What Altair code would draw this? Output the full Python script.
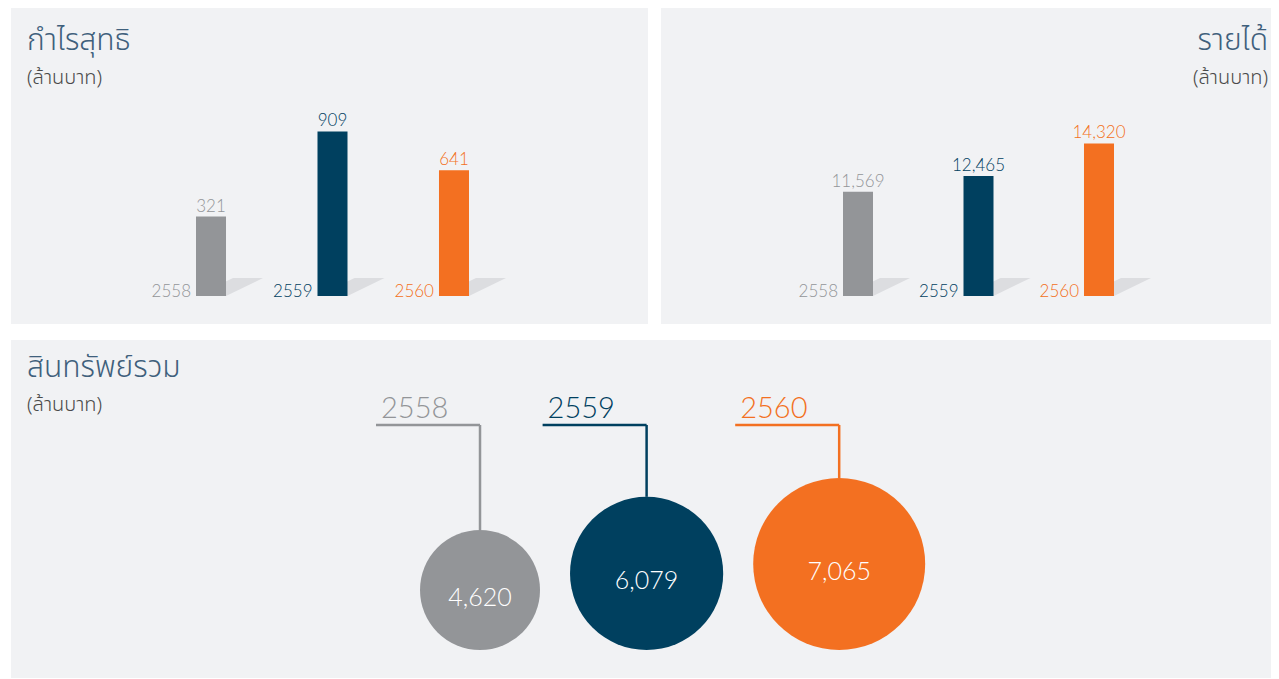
import altair as alt
import pandas as pd

# ---------------- data ----------------
years = ["2558", "2559", "2560"]
net_profit = [321, 909, 641]          # กำไรสุทธิ (ล้านบาท)
revenue = [11569, 12465, 14320]       # รายได้ (ล้านบาท)
total_assets = [4620, 6079, 7065]     # สินทรัพย์รวม (ล้านบาท)
palette = ["#939598", "#00405f", "#f37021"]

title_profit = "กำไรสุทธิ"
title_revenue = "รายได้"
title_assets = "สินทรัพย์รวม"
unit_label = "(ล้านบาท)"

# ---------------- style / layout ----------------
BG = "#f1f2f4"
SHADOW = "#dcdde0"
TITLE_COLOR = "#3f607c"
SUB_COLOR = "#4a4a4a"
THAI_FONT = "Noto Sans Thai, Noto Sans, sans-serif"
NUM_FONT = "Lato"

color_scale = alt.Scale(domain=years, range=palette)
# parallelogram shadow cast by each bar (unit = half bar width)
SHADOW_PATH = "M-1,0L1,0L3.467,-1.2L1.467,-1.2Z"


def title_layer(text, sub, x, align, y_title, y_sub):
    df = pd.DataFrame({"t": [text], "s": [sub]})
    t = alt.Chart(df).mark_text(
        align=align, baseline="alphabetic", font=THAI_FONT, fontSize=30,
        fontWeight=300, color=TITLE_COLOR
    ).encode(x=alt.value(x), y=alt.value(y_title), text="t:N")
    s = alt.Chart(df).mark_text(
        align=align, baseline="alphabetic", font=THAI_FONT, fontSize=20,
        fontWeight=300, color=SUB_COLOR
    ).encode(x=alt.value(x), y=alt.value(y_sub), text="s:N")
    return [t, s]


def bar_panel(values, width, height, ydomain, base, xrange, pin,
              title, tx, talign):
    df = pd.DataFrame({"year": years, "value": values})
    xs = alt.Scale(range=xrange, paddingInner=pin, paddingOuter=0)
    ys = alt.Scale(domain=ydomain, zero=False, nice=False)
    x = alt.X("year:N", scale=xs, axis=None)
    col = alt.Color("year:N", scale=color_scale, legend=None)
    c = alt.Chart(df)
    shadow = c.mark_point(
        shape=SHADOW_PATH, filled=True, size=900, color=SHADOW, opacity=1,
        strokeWidth=0
    ).encode(x=x, y=alt.Y(datum=base, scale=ys, axis=None))
    bars = c.mark_bar().encode(
        x=x, y=alt.Y("value:Q", scale=ys, axis=None), y2=alt.datum(base),
        color=col)
    vlab = c.mark_text(
        baseline="alphabetic", dy=-5, font=NUM_FONT, fontSize=17,
        fontWeight=300
    ).encode(x=x, y=alt.Y("value:Q", scale=ys, axis=None),
             text=alt.Text("value:Q", format=","), color=col)
    ylab = c.mark_text(
        align="right", baseline="alphabetic", dx=-20, dy=1, font=NUM_FONT,
        fontSize=17, fontWeight=300
    ).encode(x=x, y=alt.Y(datum=base, scale=ys, axis=None), text="year:N",
             color=col)
    layers = [shadow, bars, vlab, ylab] + title_layer(
        title, unit_label, tx, talign, 42, 76)
    return alt.layer(*layers).properties(width=width, height=height)


profit_panel = bar_panel(net_profit, 637, 316, [-421, 1761], -228,
                         [185, 458], 0.753, title_profit, 16, "left")
revenue_panel = bar_panel(revenue, 610, 316, [4019, 22045], 5616,
                          [182, 453], 0.751, title_revenue, 607, "right")

# ---------------- bubbles ----------------
W3, H3 = 1260, 338
V0, V1, SIZE_MAX = 2300, 7065, 29584
GAP, X0 = 30, 409
BASE_Y, LINE_Y, LABEL_Y = 310, 85, 78

adf = pd.DataFrame({"year": years, "value": total_assets})
ab = alt.Chart(adf).transform_calculate(
    d=f"sqrt({SIZE_MAX}*(datum.value-{V0})/({V1}-{V0}))"
).transform_calculate(
    step=f"datum.d+{GAP}"
).transform_window(
    cum="sum(step)", sort=[alt.SortField("year")], frame=[None, 0]
).transform_calculate(
    cx=f"{X0}+datum.cum-{GAP}-datum.d/2",
    cy=f"{BASE_Y}-datum.d/2",
    top=f"{BASE_Y}-datum.d",
    hx=f"{X0}+datum.cum-{GAP}-datum.d/2-104",
    lx=f"{X0}+datum.cum-{GAP}-datum.d/2-99",
    ly=f"{LINE_Y}",
    ty=f"{LABEL_Y}",
)
col = alt.Color("year:N", scale=color_scale, legend=None)
px = lambda f: alt.X(f, scale=None, axis=None)
py = lambda f: alt.Y(f, scale=None, axis=None)

circles = ab.mark_circle(opacity=1).encode(
    x=px("cx:Q"), y=py("cy:Q"),
    size=alt.Size("value:Q", scale=alt.Scale(domain=[V0, V1],
                  range=[0, SIZE_MAX], zero=False), legend=None),
    color=col)
hline = ab.mark_rule(strokeWidth=2.5).encode(
    x=px("hx:Q"), x2="cx:Q", y=py("ly:Q"), color=col)
vline = ab.mark_rule(strokeWidth=2.5).encode(
    x=px("cx:Q"), y=py("ly:Q"), y2="top:Q", color=col)
ylabels = ab.mark_text(
    align="left", baseline="alphabetic", font=NUM_FONT, fontSize=29,
    fontWeight=300
).encode(x=px("lx:Q"), y=py("ty:Q"), text="year:N", color=col)
vlabels = ab.mark_text(
    baseline="middle", dy=8, font=NUM_FONT, fontSize=25, fontWeight=300,
    color="white"
).encode(x=px("cx:Q"), y=py("cy:Q"), text=alt.Text("value:Q", format=","))

assets_panel = alt.layer(
    hline, vline, circles, ylabels, vlabels,
    *title_layer(title_assets, unit_label, 16, "left", 37, 71)
).properties(width=W3, height=H3)

chart = alt.vconcat(
    alt.hconcat(profit_panel, revenue_panel, spacing=13),
    assets_panel,
    spacing=16,
).properties(
    padding={"left": 3, "top": 0, "right": 0, "bottom": 0},
    background="white",
).configure_view(fill=BG, stroke=None)

chart.save("out.html", embed_options={"renderer": "svg", "actions": False})
